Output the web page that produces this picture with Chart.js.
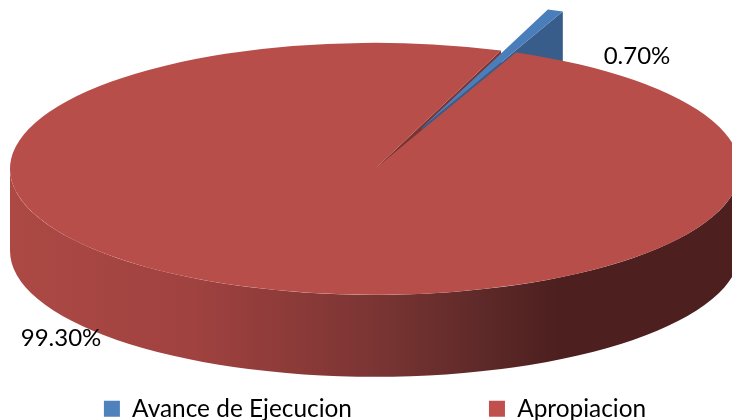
<!DOCTYPE html>
<html>
<head>
<meta charset="utf-8">
<style>
    body { margin: 0; background: #fff; }
    canvas { display: block; }
</style>
<script src="https://cdn.jsdelivr.net/npm/chart.js@4"></script>
</head>
<body>
<canvas id="pieChart" width="732" height="420"></canvas>
<script>
// Chart data
const categories = ['Avance de Ejecucion', 'Apropiacion'];
const values = [0.7, 99.3];
const sliceColors = ['#4A7EBB', '#B84E4A'];
const legendColors = ['#4F81BD', '#C0504D'];

const FONT = 'Lato';
const PIE_X = 375;        // horizontal centre of the pie
const TILT = 126 / 365;   // ellipse height / width of the pie top
const DEPTH = 82;         // height of the pie wall
const EXPLODE = 128;      // how far the small slice is pulled out

// Extruded cut face along one edge of a slice
function drawCutFace(ctx, arc, pieY, color) {
    const tipX = arc.x;
    const tipY = pieY + (arc.y - pieY) * TILT;
    const outX = tipX + Math.cos(arc.endAngle) * arc.outerRadius;
    const outY = tipY + Math.sin(arc.endAngle) * arc.outerRadius * TILT;

    ctx.fillStyle = color;
    ctx.beginPath();
    ctx.moveTo(tipX, tipY);
    ctx.lineTo(outX, outY);
    ctx.lineTo(outX, outY + DEPTH);
    ctx.lineTo(tipX, tipY + DEPTH);
    ctx.closePath();
    ctx.fill();
}

// Draws the walls, then flattens the pie into an ellipse
const tiltPlugin = {
    id: 'tilt',
    // The wide legend gap would wrap the items onto two rows otherwise
    beforeLayout(chart) {
        const legend = chart.legend;
        const fit = legend.fit;
        legend.fit = function () {
            this.maxWidth = 1000;
            fit.call(this);
        };
    },
    beforeDatasetsDraw(chart) {
        const ctx = chart.ctx;
        const [blue, red] = chart.getDatasetMeta(0).data;
        red.x = PIE_X;
        const { x, y, outerRadius: r } = red;
        const ry = r * TILT;

        // Pull the small slice out along its middle angle
        const mid = (blue.startAngle + blue.endAngle) / 2;
        blue.x = x + Math.cos(mid) * EXPLODE;
        blue.y = y + Math.sin(mid) * EXPLODE;

        const wall = ctx.createLinearGradient(x - r, 0, x + r, 0);
        wall.addColorStop(0, '#AC4945');
        wall.addColorStop(0.25, '#A04240');
        wall.addColorStop(0.4, '#8A3A38');
        wall.addColorStop(0.5, '#7A3533');
        wall.addColorStop(0.64, '#5F2A29');
        wall.addColorStop(0.75, '#4D1F1F');
        wall.addColorStop(1, '#4D1F1F');

        ctx.save();
        ctx.fillStyle = wall;
        ctx.beginPath();
        ctx.ellipse(x, y, r, ry, 0, 0, Math.PI);
        ctx.ellipse(x, y + DEPTH, r, ry, 0, Math.PI, 0, true);
        ctx.closePath();
        ctx.fill();

        drawCutFace(ctx, red, y, '#7A3533');
        drawCutFace(ctx, blue, y, '#385D8A');

        ctx.translate(0, y);
        ctx.scale(1, TILT);
        ctx.translate(0, -y);
    },
    afterDatasetsDraw(chart) {
        chart.ctx.restore();
    }
};

// Percentage labels
const percentPlugin = {
    id: 'percent',
    afterDraw(chart) {
        const ctx = chart.ctx;
        ctx.save();
        ctx.font = '24px ' + FONT;
        ctx.fillStyle = '#000';
        ctx.textAlign = 'center';
        ctx.textBaseline = 'middle';
        ctx.fillText(values[0].toFixed(2) + '%', 637, 56);
        ctx.fillText(values[1].toFixed(2) + '%', 61, 338);
        ctx.restore();
    }
};

new Chart(document.getElementById('pieChart'), {
    type: 'pie',
    data: {
        labels: categories,
        datasets: [{
            data: values,
            backgroundColor: sliceColors,
            borderWidth: 0,
            clip: false
        }]
    },
    options: {
        responsive: false,
        animation: false,
        rotation: 20.2,
        radius: 365,
        layout: {
            padding: { left: -300, right: -318, top: 78, bottom: -11 }
        },
        plugins: {
            tooltip: { enabled: false },
            legend: {
                position: 'bottom',
                maxHeight: 500,
                labels: {
                    font: { family: FONT, size: 24.4 },
                    color: '#000',
                    boxWidth: 16,
                    boxHeight: 16,
                    padding: 137,
                    generateLabels: () => categories.map((text, i) => ({
                        text,
                        fillStyle: legendColors[i],
                        lineWidth: 0,
                        index: i
                    }))
                }
            }
        }
    },
    plugins: [tiltPlugin, percentPlugin]
});
</script>
</body>
</html>
